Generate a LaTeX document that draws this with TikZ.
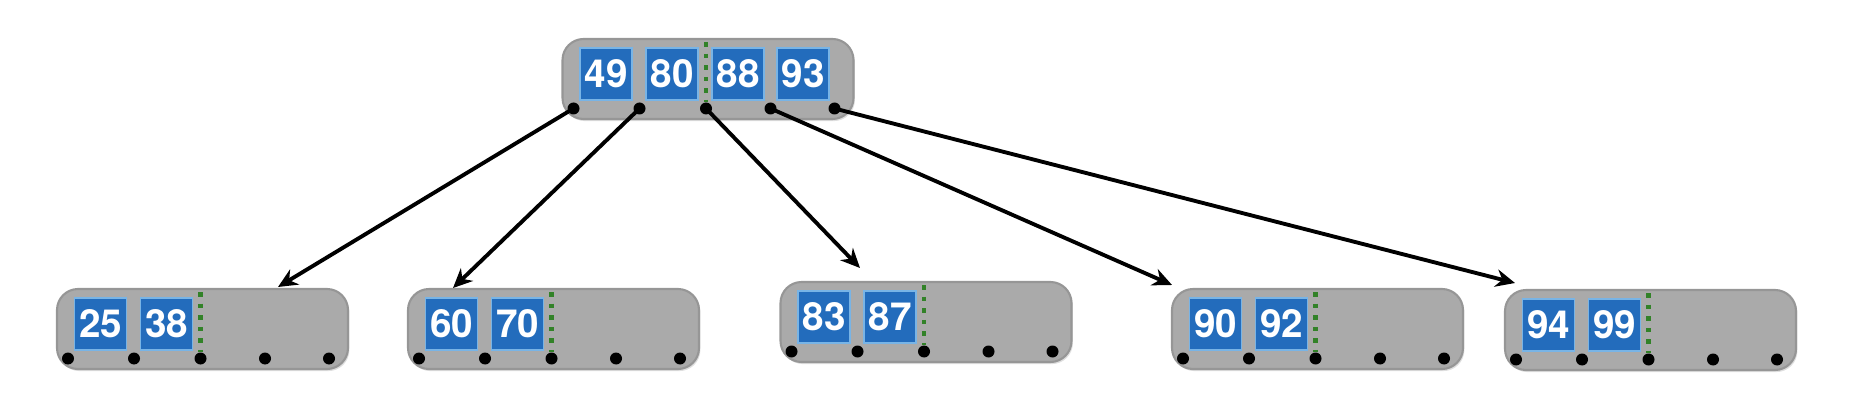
\documentclass[tikz,border=0pt]{standalone}
\usepackage{fontspec}
\setmainfont{TeX Gyre Heros}
\usepackage{xcolor}
\usepackage{tikz}
\usetikzlibrary{arrows.meta,positioning,shadows}
\definecolor{nodegray}{RGB}{170,170,170}
\definecolor{edgegray}{RGB}{150,150,150}
\definecolor{keyblue}{RGB}{35,108,188}
\definecolor{keyedge}{RGB}{120,180,230}
\definecolor{divgreen}{RGB}{50,130,40}

\begin{document}
\begin{tikzpicture}[
    nodebox/.style={draw=edgegray, fill=nodegray, rounded corners=6pt, line width=0.6pt,
        minimum width=2.91cm, minimum height=0.80cm, inner sep=0pt,
        drop shadow={shadow xshift=0.4pt, shadow yshift=-0.6pt, opacity=0.25}},
    keybox/.style={draw=keyedge, fill=keyblue, line width=0.4pt, minimum size=0.52cm,
        inner sep=0pt, text=white, font=\fontsize{11}{12}\selectfont\bfseries},
    ptr/.style={circle, fill=black, minimum size=0.12cm, inner sep=0pt},
    divider/.style={draw=divgreen, line width=1.3pt, dotted},
    arr/.style={-{Stealth[length=5.5pt, width=5pt]}, line width=1.1pt}
]
\useasboundingbox (0,0) rectangle (18.71,-4.16);

% root
\node[nodebox] (root) at (7.08,-0.79) {};
\node[keybox] (root-k1) at ([shift={(-1.02,0.05)}]root.center) {49};
\node[keybox] (root-k2) at ([shift={(-0.36,0.05)}]root.center) {80};
\node[keybox] (root-k3) at ([shift={(0.30,0.05)}]root.center) {88};
\node[keybox] (root-k4) at ([shift={(0.95,0.05)}]root.center) {93};

% leaves
\node[nodebox] (leaf1) at (2.025,-3.29) {};
\node[nodebox] (leaf2) at (5.535,-3.29) {};
\node[nodebox] (leaf3) at (9.26,-3.22) {};
\node[nodebox] (leaf4) at (13.175,-3.29) {};
\node[nodebox] (leaf5) at (16.505,-3.30) {};

\foreach \n/\ka/\kb in {leaf1/25/38, leaf2/60/70, leaf3/83/87, leaf4/90/92, leaf5/94/99} {
    \node[keybox] (\n-k1) at ([shift={(-1.02,0.05)}]\n.center) {\ka};
    \node[keybox] (\n-k2) at ([shift={(-0.36,0.05)}]\n.center) {\kb};
}

% pointers
\foreach \n in {root,leaf1,leaf2,leaf3,leaf4,leaf5} {
    \foreach \i/\dx in {1/-1.345,2/-0.685,3/-0.02,4/0.625,5/1.265}
        \node[ptr] (\n-p\i) at ([shift={(\dx,-0.295)}]\n.center) {};
    \draw[divider] ([shift={(-0.02,0.37)}]\n.center) -- (\n-p3.north);
}

% children
\coordinate (t1) at (2.78,-2.87);
\coordinate (t2) at (4.53,-2.88);
\coordinate (t3) at (8.60,-2.68);
\coordinate (t4) at (11.72,-2.85);
\coordinate (t5) at (15.15,-2.83);
\draw[arr] (root-p1.center) -- (t1);
\draw[arr] (root-p2.center) -- (t2);
\draw[arr] (root-p3.center) -- (t3);
\draw[arr] (root-p4.center) -- (t4);
\draw[arr] (root-p5.center) -- (t5);
\end{tikzpicture}
\end{document}
